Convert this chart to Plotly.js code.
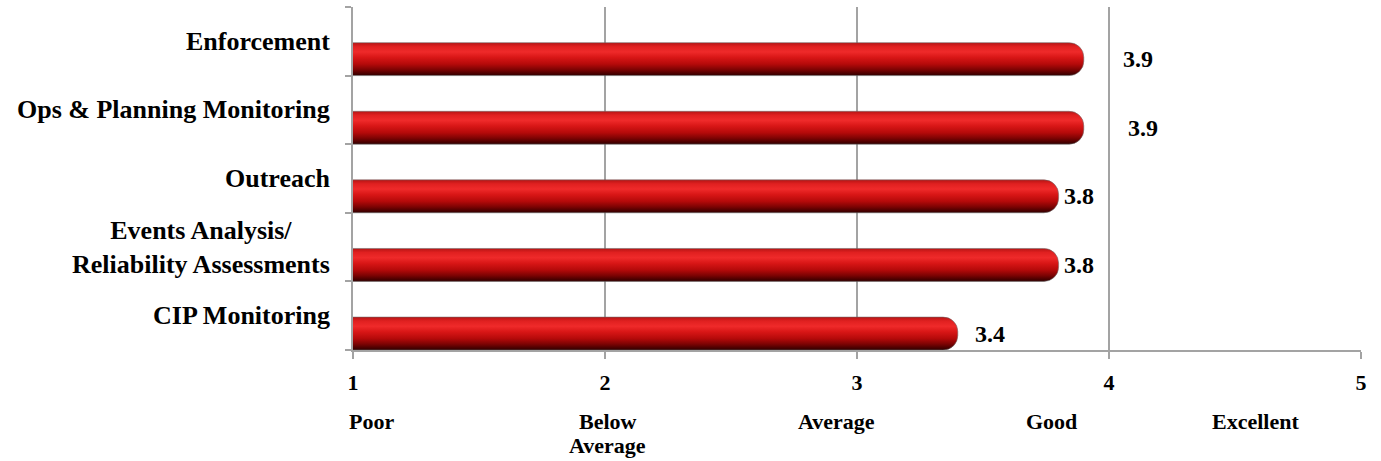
<!DOCTYPE html>
<html>
<head>
<meta charset="utf-8">
<script src="https://cdn.plot.ly/plotly-3.0.1.min.js"></script>
<style>
  html, body { margin: 0; padding: 0; background: #ffffff; }
  #chart { width: 1381px; height: 461px; }
</style>
</head>
<body>
<div id="chart"></div>
<script>
// ---- data ----
const categories = [
  "Enforcement",
  "Ops & Planning Monitoring",
  "Outreach",
  "Events Analysis/<br>Reliability Assessments",
  "CIP Monitoring"
];
const scores = [3.9, 3.9, 3.8, 3.8, 3.4];
const scoreLabels = ["3.9", "3.9", "3.8", "3.8", "3.4"];
const tickValues = [1, 2, 3, 4, 5];
const tickLabels = ["1", "2", "3", "4", "5"];
const ratingNames = ["Poor", "Below<br>Average", "Average", "Good", "Excellent"];

// ---- style ----
const FONT = "'Liberation Serif', 'Times New Roman', Times, serif";
const GRAY = "#a3a3a3";
const ratingX = [1.075, 2.01, 2.92, 3.77, 4.58];     // label anchor positions under the axis
const labelShift = [37, 42, 3, 3, 15];               // value label offsets from bar end (px)

const yIdx = categories.map((c, i) => i);

const bars = {
  type: "bar",
  orientation: "h",
  x: scores,
  y: yIdx,
  offset: 0.02,
  width: 0.48,
  marker: {
    color: "#c81212",
    cornerradius: "45%",
    line: { color: "rgba(110,110,110,0.55)", width: 1 }
  },
  hoverinfo: "skip",
  showlegend: false
};

const annotations = [];
categories.forEach((c, i) => {
  annotations.push({
    text: "<b>" + c + "</b>", xref: "paper", x: 0, yref: "y", y: i,
    xanchor: "right", yanchor: "middle", xshift: -21, align: "center",
    showarrow: false, font: { family: FONT, size: 26, color: "#000" }
  });
  annotations.push({
    text: "<b>" + scoreLabels[i] + "</b>", xref: "x", x: scores[i], yref: "y", y: i + 0.26,
    xanchor: "left", yanchor: "middle", xshift: labelShift[i],
    showarrow: false, font: { family: FONT, size: 24, color: "#000" }
  });
});
ratingNames.forEach((r, i) => {
  r.split("<br>").forEach((line, k) => {
    annotations.push({
      text: "<b>" + line + "</b>", xref: "x", x: ratingX[i], yref: "paper", y: 0,
      xanchor: "center", yanchor: "top", yshift: -58 - 24 * k, borderpad: 0,
      showarrow: false, font: { family: FONT, size: 22, color: "#000" }
    });
  });
});

const layout = {
  width: 1381, height: 461,
  margin: { l: 353, r: 20, t: 7, b: 111, pad: 0 },
  paper_bgcolor: "#ffffff", plot_bgcolor: "#ffffff",
  bargap: 0, barmode: "overlay",
  xaxis: {
    range: [1, 5], tickvals: tickValues, ticktext: tickLabels.map(t => "<b>" + t + "</b>"),
    showgrid: true, gridcolor: GRAY, gridwidth: 2,
    showline: true, linecolor: GRAY, linewidth: 2,
    ticks: "outside", ticklen: 7, tickcolor: GRAY, tickwidth: 2,
    ticklabelstandoff: 5,
    tickfont: { family: FONT, size: 22, color: "#000" },
    zeroline: false, fixedrange: true
  },
  yaxis: {
    range: [4.5, -0.5], tickmode: "array",
    tickvals: [-0.5, 0.5, 1.5, 2.5, 3.5, 4.5],
    showticklabels: false, showgrid: false,
    showline: true, linecolor: GRAY, linewidth: 2,
    ticks: "outside", ticklen: 6, tickcolor: GRAY, tickwidth: 2,
    zeroline: false, fixedrange: true
  },
  annotations: annotations,
  font: { family: FONT, color: "#000" }
};

Plotly.newPlot("chart", [bars], layout, { staticPlot: true, displayModeBar: false }).then(gd => {
  // cylinder-like vertical shading on the bars drawn by Plotly
  const svg = gd.querySelector("svg.main-svg");
  const NS = "http://www.w3.org/2000/svg";
  let defs = svg.querySelector("defs");
  if (!defs) { defs = document.createElementNS(NS, "defs"); svg.insertBefore(defs, svg.firstChild); }
  const grad = document.createElementNS(NS, "linearGradient");
  grad.setAttribute("id", "cylGrad");
  grad.setAttribute("x1", "0"); grad.setAttribute("y1", "0");
  grad.setAttribute("x2", "0"); grad.setAttribute("y2", "1");
  [[0, "#b51414"], [0.12, "#e02020"], [0.28, "#ef2a2a"], [0.45, "#d81616"],
   [0.65, "#b50a0a"], [0.82, "#7c0303"], [0.93, "#4d0000"], [1, "#300000"]].forEach(s => {
    const st = document.createElementNS(NS, "stop");
    st.setAttribute("offset", s[0]); st.setAttribute("stop-color", s[1]);
    grad.appendChild(st);
  });
  defs.appendChild(grad);
  gd.querySelectorAll(".barlayer .point path").forEach(p => { p.style.fill = "url(#cylGrad)"; });
});
</script>
</body>
</html>
